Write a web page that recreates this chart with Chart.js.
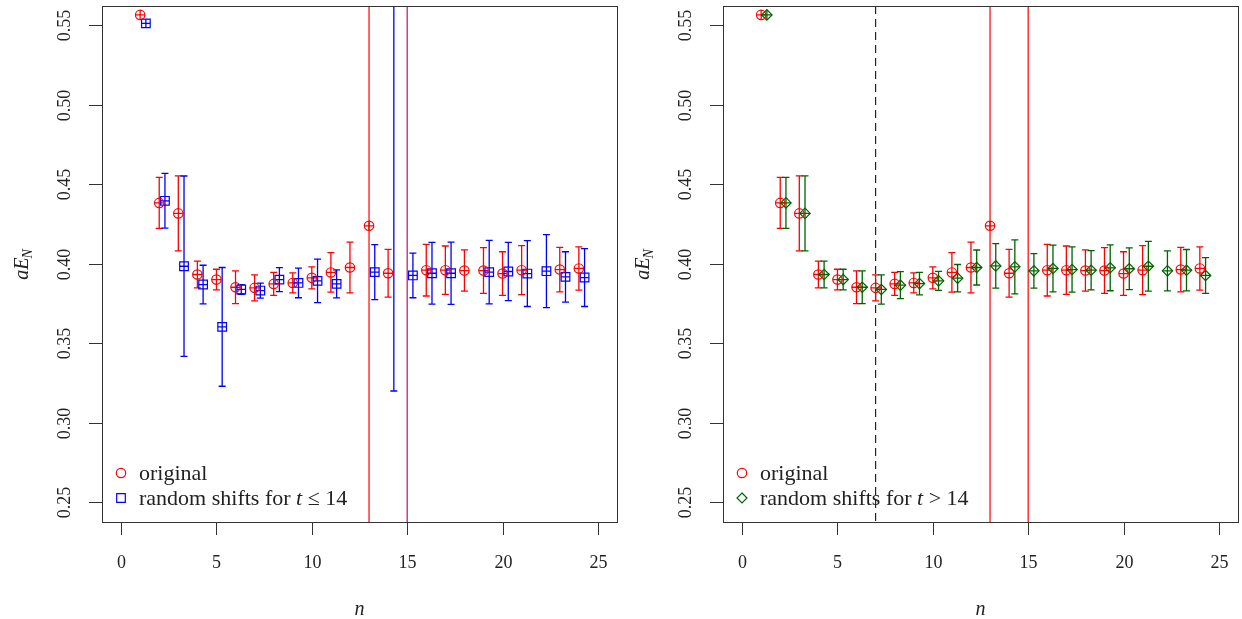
<!DOCTYPE html>
<html>
<head>
<meta charset="utf-8">
<script src="https://cdn.jsdelivr.net/npm/chart.js@4.4.1/dist/chart.umd.min.js"></script>
<style>
  body { margin:0; background:#fff; }
  canvas { position:absolute; top:0; }
</style>
</head>
<body>
<canvas id="left" width="621" height="619" style="left:0"></canvas>
<canvas id="right" width="621" height="619" style="left:621px"></canvas>
<script>
// ---------------- data ----------------
const xTicks = [0, 5, 10, 15, 20, 25];
const yTicks = [0.25, 0.30, 0.35, 0.40, 0.45, 0.50, 0.55];

// original (red circles)
const origN   = [1, 2, 3, 4, 5, 6, 7, 8, 9, 10, 11, 12, 13, 14, 16, 17, 18, 19, 20, 21, 23, 24];
const origVal = [0.5563, 0.4382, 0.4316, 0.3932, 0.3900, 0.3852, 0.3848, 0.3873, 0.3879, 0.3911, 0.3945,
                 0.3976, 0.4238, 0.3940, 0.3959, 0.3959, 0.3957, 0.3957, 0.3938, 0.3959, 0.3963, 0.3970];
const origErr = [0.001, 0.016, 0.0236, 0.0084, 0.0065, 0.0103, 0.0082, 0.0072, 0.0063, 0.0069, 0.0124,
                 0.016, 0.002, 0.015, 0.0162, 0.0152, 0.013, 0.0144, 0.0137, 0.0154, 0.014, 0.0136];

// random shifts for t <= 14 (blue squares)
const lowN   = [1, 2, 3, 4, 5, 6, 7, 8, 9, 10, 11, 13, 14, 15, 16, 17, 19, 20, 21, 22, 23, 24];
const lowVal = [0.5510, 0.4395, 0.3984, 0.3869, 0.3603, 0.3838, 0.3831, 0.3900, 0.3879, 0.3892, 0.3873,
                0.3947, 0.62, 0.3926, 0.3940, 0.3940, 0.3947, 0.3951, 0.3938, 0.3953, 0.3917, 0.3913];
const lowErr = [0.001, 0.0172, 0.0567, 0.0121, 0.0373, 0.003, 0.0047, 0.0075, 0.0093, 0.0137, 0.0088,
                0.0173, 0.30, 0.014, 0.0194, 0.0196, 0.02, 0.0183, 0.0207, 0.0229, 0.0158, 0.0182];

// random shifts for t > 14 (green diamonds)
const highN   = [1, 2, 3, 4, 5, 6, 7, 8, 9, 10, 11, 12, 13, 14, 15, 16, 17, 18, 19, 20, 21, 22, 23, 24];
const highVal = [0.5563, 0.4382, 0.4316, 0.3932, 0.3900, 0.3852, 0.3838, 0.3865, 0.3875, 0.3892, 0.3909, 0.3976,
                 0.3986, 0.3980, 0.3955, 0.3970, 0.3963, 0.3959, 0.3974, 0.3968, 0.3984, 0.3955, 0.3959, 0.3926];
const highErr = [0.001, 0.016, 0.0236, 0.0084, 0.0065, 0.0103, 0.0092, 0.0085, 0.0071, 0.006, 0.0086, 0.011,
                 0.014, 0.017, 0.0108, 0.0147, 0.0142, 0.0123, 0.0144, 0.0131, 0.0156, 0.0126, 0.013, 0.0112];

const shift = 0.3;
const FONT = '"Liberation Serif", "DejaVu Serif", serif';
const INK = '#222';

function pts(ns, vals, errs, dx) {
  return ns.map((n, i) => ({ x: n + dx, y: vals[i], err: errs[i] }));
}

// draw a marker by hand (legend only)
function marker(ctx, style, x, y, color) {
  ctx.save();
  ctx.strokeStyle = color; ctx.lineWidth = 1.2;
  ctx.beginPath();
  if (style === 'circle') ctx.arc(x, y, 4.7, 0, Math.PI * 2);
  else if (style === 'rect') ctx.rect(x - 4.3, y - 4.3, 8.6, 8.6);
  else { ctx.moveTo(x, y - 5); ctx.lineTo(x + 5, y); ctx.lineTo(x, y + 5); ctx.lineTo(x - 5, y); ctx.closePath(); }
  ctx.stroke();
  ctx.restore();
}

const errorBars = {
  id: 'errorBars',
  beforeDatasetsDraw(chart) {
    const { ctx, chartArea: a, scales: { x, y } } = chart;
    ctx.save();
    ctx.beginPath(); ctx.rect(a.left, a.top, a.right - a.left, a.bottom - a.top); ctx.clip();
    // vertical reference lines
    chart.options.vlines.forEach(v => {
      ctx.save();
      ctx.strokeStyle = v.color; ctx.lineWidth = 1.2;
      if (v.dash) ctx.setLineDash(v.dash);
      const px = x.getPixelForValue(v.x);
      ctx.beginPath(); ctx.moveTo(px, a.top); ctx.lineTo(px, a.bottom); ctx.stroke();
      ctx.restore();
    });
    chart.data.datasets.forEach(ds => {
      ctx.strokeStyle = ds.borderColor; ctx.lineWidth = 1.3;
      ds.data.forEach(p => {
        const px = x.getPixelForValue(p.x);
        const py = y.getPixelForValue(p.y);
        const top = y.getPixelForValue(p.y + p.err);
        const bot = y.getPixelForValue(p.y - p.err);
        const r = ds.pointRadius * (ds.pointStyle === 'rect' ? 0.7 : 1);
        ctx.beginPath();
        ctx.moveTo(px, Math.min(top, py - r)); ctx.lineTo(px, Math.max(bot, py + r));
        ctx.moveTo(px - r, py); ctx.lineTo(px + r, py);
        if (bot - top > 2 * r) {
          ctx.moveTo(px - 3.5, top); ctx.lineTo(px + 3.5, top);
          ctx.moveTo(px - 3.5, bot); ctx.lineTo(px + 3.5, bot);
        }
        ctx.stroke();
      });
    });
    ctx.restore();
  },
  afterDraw(chart) {
    const { ctx, chartArea: a, scales: { x, y } } = chart;
    ctx.save();
    ctx.strokeStyle = '#333'; ctx.lineWidth = 1;
    ctx.strokeRect(a.left + 0.5, a.top + 0.5, a.right - a.left, a.bottom - a.top);
    ctx.fillStyle = INK;
    ctx.font = '18px ' + FONT;
    // x axis
    ctx.textAlign = 'center'; ctx.textBaseline = 'middle';
    xTicks.forEach(t => {
      const px = Math.round(x.getPixelForValue(t)) + 0.5;
      ctx.beginPath(); ctx.moveTo(px, a.bottom); ctx.lineTo(px, a.bottom + 13); ctx.stroke();
      ctx.fillText(String(t), px, a.bottom + 41);
    });
    // y axis
    yTicks.forEach(t => {
      const py = Math.round(y.getPixelForValue(t)) + 0.5;
      ctx.beginPath(); ctx.moveTo(a.left - 13, py); ctx.lineTo(a.left, py); ctx.stroke();
      ctx.save();
      ctx.translate(a.left - 37, py); ctx.rotate(-Math.PI / 2);
      ctx.fillText(t.toFixed(2), 0, 0);
      ctx.restore();
    });
    // axis titles
    ctx.font = 'italic 20px ' + FONT;
    ctx.fillText('n', (a.left + a.right) / 2, a.bottom + 88);
    ctx.save();
    ctx.translate(a.left - 79, (a.top + a.bottom) / 2); ctx.rotate(-Math.PI / 2);
    ctx.textAlign = 'left';
    const w1 = ctx.measureText('aE').width;
    ctx.font = 'italic 14px ' + FONT;
    const w2 = ctx.measureText('N').width;
    const sx = -(w1 + w2) / 2;
    ctx.font = 'italic 20px ' + FONT;
    ctx.fillText('aE', sx, 0);
    ctx.font = 'italic 14px ' + FONT;
    ctx.fillText('N', sx + w1 - 1, 5);
    ctx.restore();
    // legend
    const lg = chart.options.legendRows;
    ctx.textAlign = 'left';
    lg.forEach((row, i) => {
      const ly = a.bottom - 49 + i * 25;
      marker(ctx, row.style, a.left + 19, ly, row.color);
      let tx = a.left + 37;
      row.parts.forEach(p => {
        ctx.font = (p.it ? 'italic ' : '') + '22px ' + FONT;
        ctx.fillStyle = INK;
        ctx.fillText(p.t, tx, ly + 1);
        tx += ctx.measureText(p.t).width;
      });
    });
    ctx.restore();
  }
};

function makePanel(id, shifted, vlines) {
  new Chart(document.getElementById(id), {
    type: 'scatter',
    data: {
      datasets: [
        { data: pts(origN, origVal, origErr, 0), borderColor: '#ff0000', backgroundColor: 'transparent',
          pointStyle: 'circle', pointRadius: 4.7, borderWidth: 1.2 },
        { data: pts(shifted.n, shifted.val, shifted.err, shift), borderColor: shifted.color, backgroundColor: 'transparent',
          pointStyle: shifted.style, pointRadius: shifted.radius, borderWidth: 1.2 }
      ]
    },
    options: {
      responsive: false,
      animation: false,
      events: [],
      layout: { autoPadding: false, padding: { left: 102, right: 4, top: 6, bottom: 97 } },
      plugins: { legend: { display: false }, tooltip: { enabled: false } },
      scales: {
        x: { type: 'linear', min: -1, max: 26, display: false },
        y: { type: 'linear', min: 0.2377, max: 0.5619, display: false }
      },
      vlines: vlines,
      legendRows: [
        { style: 'circle', color: '#ff0000', parts: [{ t: 'original' }] },
        { style: shifted.style, color: shifted.color, parts: shifted.legend }
      ]
    },
    plugins: [errorBars]
  });
}

makePanel('left',
  { n: lowN, val: lowVal, err: lowErr, color: '#0000ff', style: 'rect', radius: 6.1,
    legend: [{ t: 'random shifts for ' }, { t: 't', it: true }, { t: ' ≤ 14' }] },
  [{ x: 13, color: '#ff0000' }, { x: 15, color: '#c0106a' }]);

makePanel('right',
  { n: highN, val: highVal, err: highErr, color: '#006400', style: 'rectRot', radius: 5.2,
    legend: [{ t: 'random shifts for ' }, { t: 't', it: true }, { t: ' > 14' }] },
  [{ x: 7, color: '#222', dash: [8, 5] }, { x: 13, color: '#ff0000' }, { x: 15, color: '#ff0000' }]);
</script>
</body>
</html>
